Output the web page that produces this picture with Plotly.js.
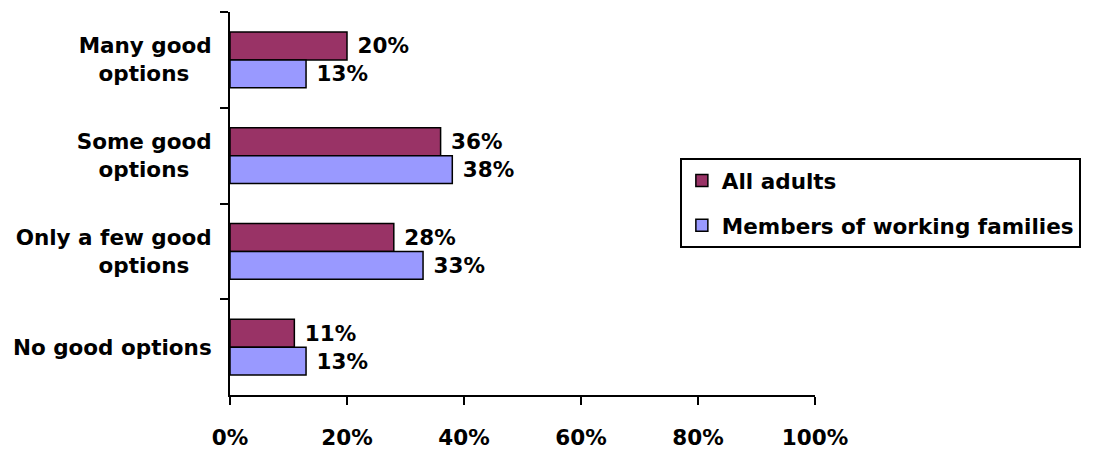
<!DOCTYPE html>
<html>
<head>
<meta charset="utf-8">
<script src="https://cdn.plot.ly/plotly-3.0.1.min.js"></script>
<style>
  body { margin: 0; background: #fff; }
  #chart { width: 1101px; height: 451px; }
</style>
</head>
<body>
<div id="chart"></div>
<script>
// second line padded so it sits a bit left of the axis, like the original
var pad = '\u00A0\u00A0\u00A0';
var categories = ['Many good<br>options' + pad, 'Some good<br>options' + pad, 'Only a few good<br>options' + pad, 'No good options'];
var allAdults = [20, 36, 28, 11];
var workingFamilies = [13, 38, 33, 13];

var font = {family: 'DejaVu Sans, Arial, sans-serif', size: 21.5, color: '#000', weight: 'bold'};

var data = [{
    y: categories,
    x: allAdults,
    type: 'bar',
    orientation: 'h',
    name: 'All adults',
    legendgroup: 'a',
    marker: {color: '#993366', line: {color: '#000', width: 1.5}},
    text: allAdults,
    texttemplate: ' %{text}%',
    textposition: 'outside',
    textfont: font,
    cliponaxis: false,
    hoverinfo: 'none'
},
    {
        y: categories,
        x: workingFamilies,
        type: 'bar',
        orientation: 'h',
        name: 'Members of working families',
        legendgroup: 'b',
        marker: {color: '#9999FF', line: {color: '#000', width: 1.5}},
        text: workingFamilies,
        texttemplate: ' %{text}%',
        textposition: 'outside',
        textfont: font,
        cliponaxis: false,
        hoverinfo: 'none'
    }];

var layout = {
    width: 1101,
    height: 451,
    margin: {l: 230, r: 286, t: 12, b: 56},
    paper_bgcolor: '#fff',
    plot_bgcolor: '#fff',
    font: font,
    barmode: 'group',
    bargap: 0.42,
    bargroupgap: 0,
    showlegend: true,
    legend: {
        x: 0.769,
        y: 0.619,
        xanchor: 'left',
        yanchor: 'top',
        bordercolor: '#000',
        borderwidth: 2,
        bgcolor: '#fff',
        font: font,
        traceorder: 'grouped',
        tracegroupgap: 14
    },
    xaxis: {
        range: [0, 100],
        dtick: 20,
        ticksuffix: '%',
        showgrid: false,
        zeroline: false,
        showline: true,
        linecolor: '#000',
        linewidth: 2,
        ticks: 'outside',
        ticklen: 8,
        tickwidth: 2,
        tickcolor: '#000',
        ticklabelstandoff: 14,
        tickfont: font,
        fixedrange: true
    },
    yaxis: {
        autorange: 'reversed',
        showgrid: false,
        zeroline: false,
        showline: true,
        linecolor: '#000',
        linewidth: 2,
        ticks: 'outside',
        tickson: 'boundaries',
        ticklen: 8,
        tickwidth: 2,
        tickcolor: '#000',
        ticklabelstandoff: 12,
        tickfont: font,
        fixedrange: true
    }
};

Plotly.newPlot('chart', data, layout, {displayModeBar: false, staticPlot: true});
</script>
</body>
</html>
